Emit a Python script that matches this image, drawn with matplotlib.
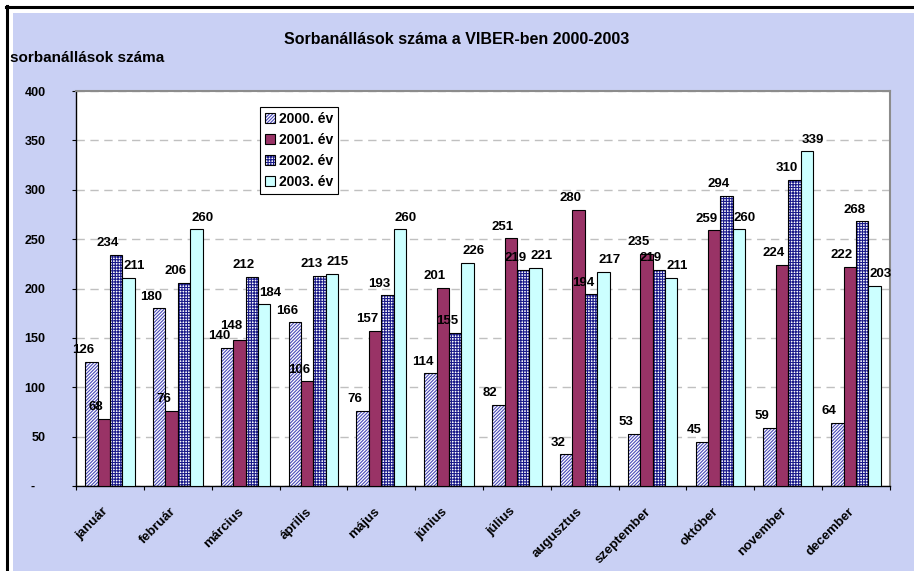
import matplotlib
matplotlib.use("Agg")
import matplotlib.pyplot as plt
import matplotlib.transforms as mtransforms
import numpy as np
from matplotlib.patches import Rectangle, Patch
from matplotlib.lines import Line2D
from matplotlib.legend_handler import HandlerTuple

# Data
months = ["január", "február", "március", "április", "május", "június",
          "július", "augusztus", "szeptember", "október", "november", "december"]
series_names = ["2000. év", "2001. év", "2002. év", "2003. év"]
y2000 = [126, 180, 140, 166, 76, 114, 82, 32, 53, 45, 59, 64]
y2001 = [68, 76, 148, 106, 157, 201, 251, 280, 235, 259, 224, 222]
y2002 = [234, 206, 212, 213, 193, 155, 219, 194, 219, 294, 310, 268]
y2003 = [211, 260, 184, 215, 260, 226, 221, 217, 211, 260, 339, 203]
y_ticks = [0, 50, 100, 150, 200, 250, 300, 350, 400]
y_tick_labels = ["-   ", "50", "100", "150", "200", "250", "300", "350", "400"]

title = "Sorbanállások száma a VIBER-ben 2000-2003"
y_title = "sorbanállások száma"

plt.rcParams["font.family"] = ["Liberation Sans", "DejaVu Sans"]
plt.rcParams["font.weight"] = "bold"
plt.rcParams["hatch.linewidth"] = 0.8

W, H = 914, 571
fig = plt.figure(figsize=(W / 100, H / 100), dpi=100, facecolor="white")

# background and black frame on top/left
fig.patches.append(Rectangle((13 / W, 0), 1 - 13 / W, 1 - 13 / H,
                             transform=fig.transFigure, facecolor="#c9d0f4",
                             edgecolor="none", zorder=-5))
fig.add_artist(Line2D([6 / W, 1], [1 - 7 / H, 1 - 7 / H], color="black",
                      lw=2.2, transform=fig.transFigure))
fig.add_artist(Line2D([7 / W, 7 / W], [0, 1 - 6 / H], color="black",
                      lw=2.2, transform=fig.transFigure))

ax = fig.add_axes([76 / W, 1 - 486 / H, (890 - 76) / W, (486 - 91) / H])
ax.set_zorder(2)
ax.set_facecolor("white")

styles = [
    dict(face="white", hatch="/" * 10, hcol="#4a4ab8"),
    dict(face="#993366", hatch=None, hcol=None),
    dict(face="white", hatch="+" * 6, hcol="#1a1a8a"),
    dict(face="#ccffff", hatch=None, hcol=None),
]
all_series = [y2000, y2001, y2002, y2003]

x = np.arange(len(months))
width = 0.183
label_dx = [-5.8, -5.8, -5.8, 4.3]  # points, Excel-style nudge

handles = []
labels = []
for k, (vals, st) in enumerate(zip(all_series, styles)):
    xs = x + (k - 1.5) * width
    if st["hatch"]:
        ax.bar(xs, vals, width, color=st["face"], edgecolor=st["hcol"],
               hatch=st["hatch"], linewidth=0, zorder=2)
        ax.bar(xs, vals, width, fill=False, edgecolor="black", linewidth=0.8, zorder=3)
        h = (Patch(facecolor=st["face"], edgecolor=st["hcol"], hatch=st["hatch"], lw=0),
             Patch(fill=False, edgecolor="black", lw=0.8))
    else:
        ax.bar(xs, vals, width, color=st["face"], edgecolor="black",
               linewidth=0.8, zorder=3)
        h = (Patch(facecolor=st["face"], edgecolor="black", lw=0.8),)
    handles.append(h)
    row = []
    for xi, v in zip(xs, vals):
        row.append(ax.annotate(str(v), (xi, v), xytext=(label_dx[k], 4),
                               textcoords="offset points", ha="center", va="bottom",
                               fontsize=9.5, fontweight="bold", zorder=5))
    labels.append(row)

ax.set_xlim(-0.5, len(months) - 0.5)
ax.set_ylim(0, 400)

# gridlines
ax.set_axisbelow(True)
ax.yaxis.grid(True, color="#c0c0c0", linestyle=(0, (6, 4)), lw=1)

# spines
for s in ["top", "right"]:
    ax.spines[s].set_color("#8c8c8c")
    ax.spines[s].set_linewidth(1.5)
for s in ["left", "bottom"]:
    ax.spines[s].set_color("black")
    ax.spines[s].set_linewidth(1.0)

# y axis
ax.set_yticks(y_ticks, y_tick_labels)
ax.tick_params(axis="y", direction="out", length=3, width=0.8, pad=19,
               labelsize=9)

# x axis: labels at centres, tick marks at category boundaries
ax.set_xticks(x, months, rotation=45, ha="right", rotation_mode="anchor")
ax.set_xticks(np.arange(-0.5, len(months), 1), minor=True)
ax.tick_params(axis="x", which="major", length=0, pad=14, labelsize=9.5)
ax.tick_params(axis="x", which="minor", direction="out", length=3, width=0.8)
shift = mtransforms.ScaledTranslation(-8 / 100, 0, fig.dpi_scale_trans)
for lab in ax.get_xticklabels():
    lab.set_transform(lab.get_transform() + shift)

# legend
leg = ax.legend(handles, series_names, handler_map={tuple: HandlerTuple(ndivide=1)},
                loc="upper left", bbox_to_anchor=(260 / W, 1 - 107 / H),
                bbox_transform=fig.transFigure, borderaxespad=0,
                fontsize=10, handlelength=0.7, handleheight=0.7,
                handletextpad=0.3, labelspacing=0.5, borderpad=0.35,
                fancybox=False, framealpha=1, edgecolor="black")
leg.get_frame().set_linewidth(0.8)
leg.set_zorder(6)

fig.text(457 / W, 1 - 40 / H, title, ha="center", va="center",
         fontsize=11.5, fontweight="bold")
fig.text(10 / W, 1 - 58 / H, y_title, ha="left", va="center",
         fontsize=11, fontweight="bold")

# push colliding data labels upwards, like Excel does
fig.canvas.draw()
renderer = fig.canvas.get_renderer()
for i in range(len(months)):
    placed = []
    for k in range(len(all_series)):
        t = labels[k][i]
        bb = t.get_window_extent(renderer).shrunk(0.95, 0.8)
        for pb in placed:
            if bb.overlaps(pb):
                dy = (pb.y1 - bb.y0 + 1) * 72 / fig.dpi
                t.xyann = (t.xyann[0], t.xyann[1] + dy)
                bb = t.get_window_extent(renderer).shrunk(0.95, 0.8)
        placed.append(bb)

fig.savefig("out.png", dpi=100)
